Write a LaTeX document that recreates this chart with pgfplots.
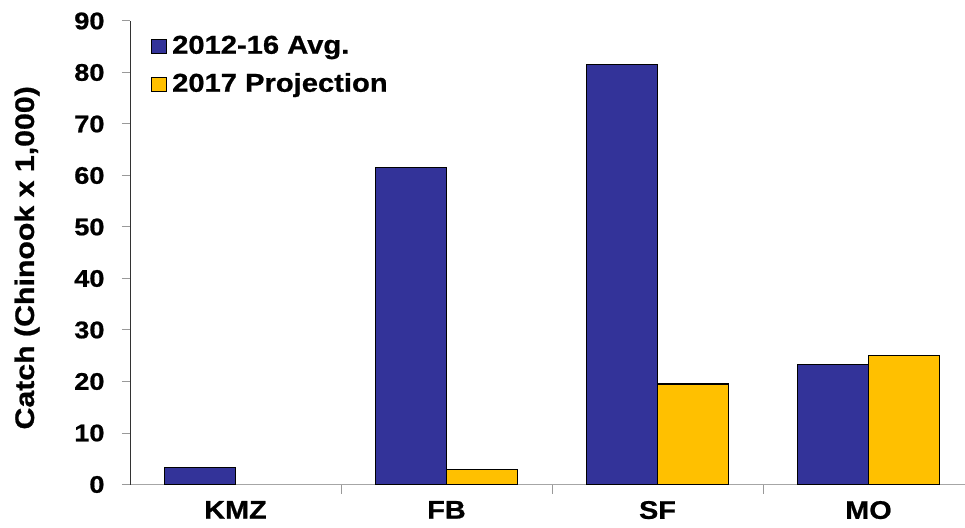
\documentclass[border=0pt]{standalone}
\usepackage{fontspec}
\setmainfont{Liberation Sans}[FakeStretch=1.13, BoldFeatures={FakeBold=0.8}]
\usepackage{pgfplots}
\pgfplotsset{compat=1.18}
\definecolor{avgblue}{RGB}{51,51,153}
\definecolor{projyellow}{RGB}{255,192,0}
\begin{document}
\begin{tikzpicture}[x=1pt,y=1pt]
\begin{axis}[
  at={(130pt,42.5pt)}, anchor=south west,
  scale only axis,
  width=844pt, height=463.5pt,
  xmin=-0.5, xmax=3.5,
  ymin=0, ymax=90,
  axis x line*=bottom,
  axis y line*=left,
  x axis line style={gray!70, line width=1pt},
  y axis line style={black!80, line width=1pt},
  ybar=0pt,
  bar width=71pt,
  xtick={0,1,2,3},
  xticklabels={KMZ,FB,SF,MO},
  minor xtick={0.5,1.5,2.5},
  major x tick style={draw=none},
  minor x tick style={gray!80, line width=1pt},
  minor tick length=9pt,
  ytick={0,10,...,90},
  y tick style={gray!80, line width=1pt},
  major tick length=8pt,
  tick align=outside,
  /pgf/number format/assume math mode=true,
  yticklabel style={font=\fontsize{24}{28}\selectfont\bfseries, xshift=-14pt},
  xticklabel style={font=\fontsize{25.5}{28}\selectfont\bfseries, yshift=-5pt},
  ylabel={Catch (Chinook x 1,000)},
  ylabel style={font=\fontsize{26.8}{30}\selectfont\bfseries,
    at={(axis description cs:-0.122,0.489)}, anchor=center, rotate=0},
  legend style={at={(0.0213,0.974)}, anchor=north west, draw=none, fill=none,
    font=\fontsize{25.8}{30}\selectfont\bfseries, row sep=15pt,
    nodes={inner sep=0pt, text height=18.5pt, text depth=4.5pt},
    /tikz/every odd column/.append style={column sep=5pt}},
  legend cell align=left,
  legend image code/.code={\draw[#1, line width=1pt] (0pt,-7pt) rectangle (15pt,7pt);},
  clip=false,
]
\addplot[fill=avgblue, draw=black, line width=1.2pt] coordinates {(0,3.3) (1,61.5) (2,81.6) (3,23.3)};
\addplot[fill=projyellow, draw=black, line width=1.2pt] coordinates {(1,2.95) (2,19.5) (3,25.1)};
\legend{2012-16 Avg.,2017 Projection}
\end{axis}
\pgfresetboundingbox
\path[use as bounding box] (0,0) rectangle (965pt,527pt);
\end{tikzpicture}
\end{document}
